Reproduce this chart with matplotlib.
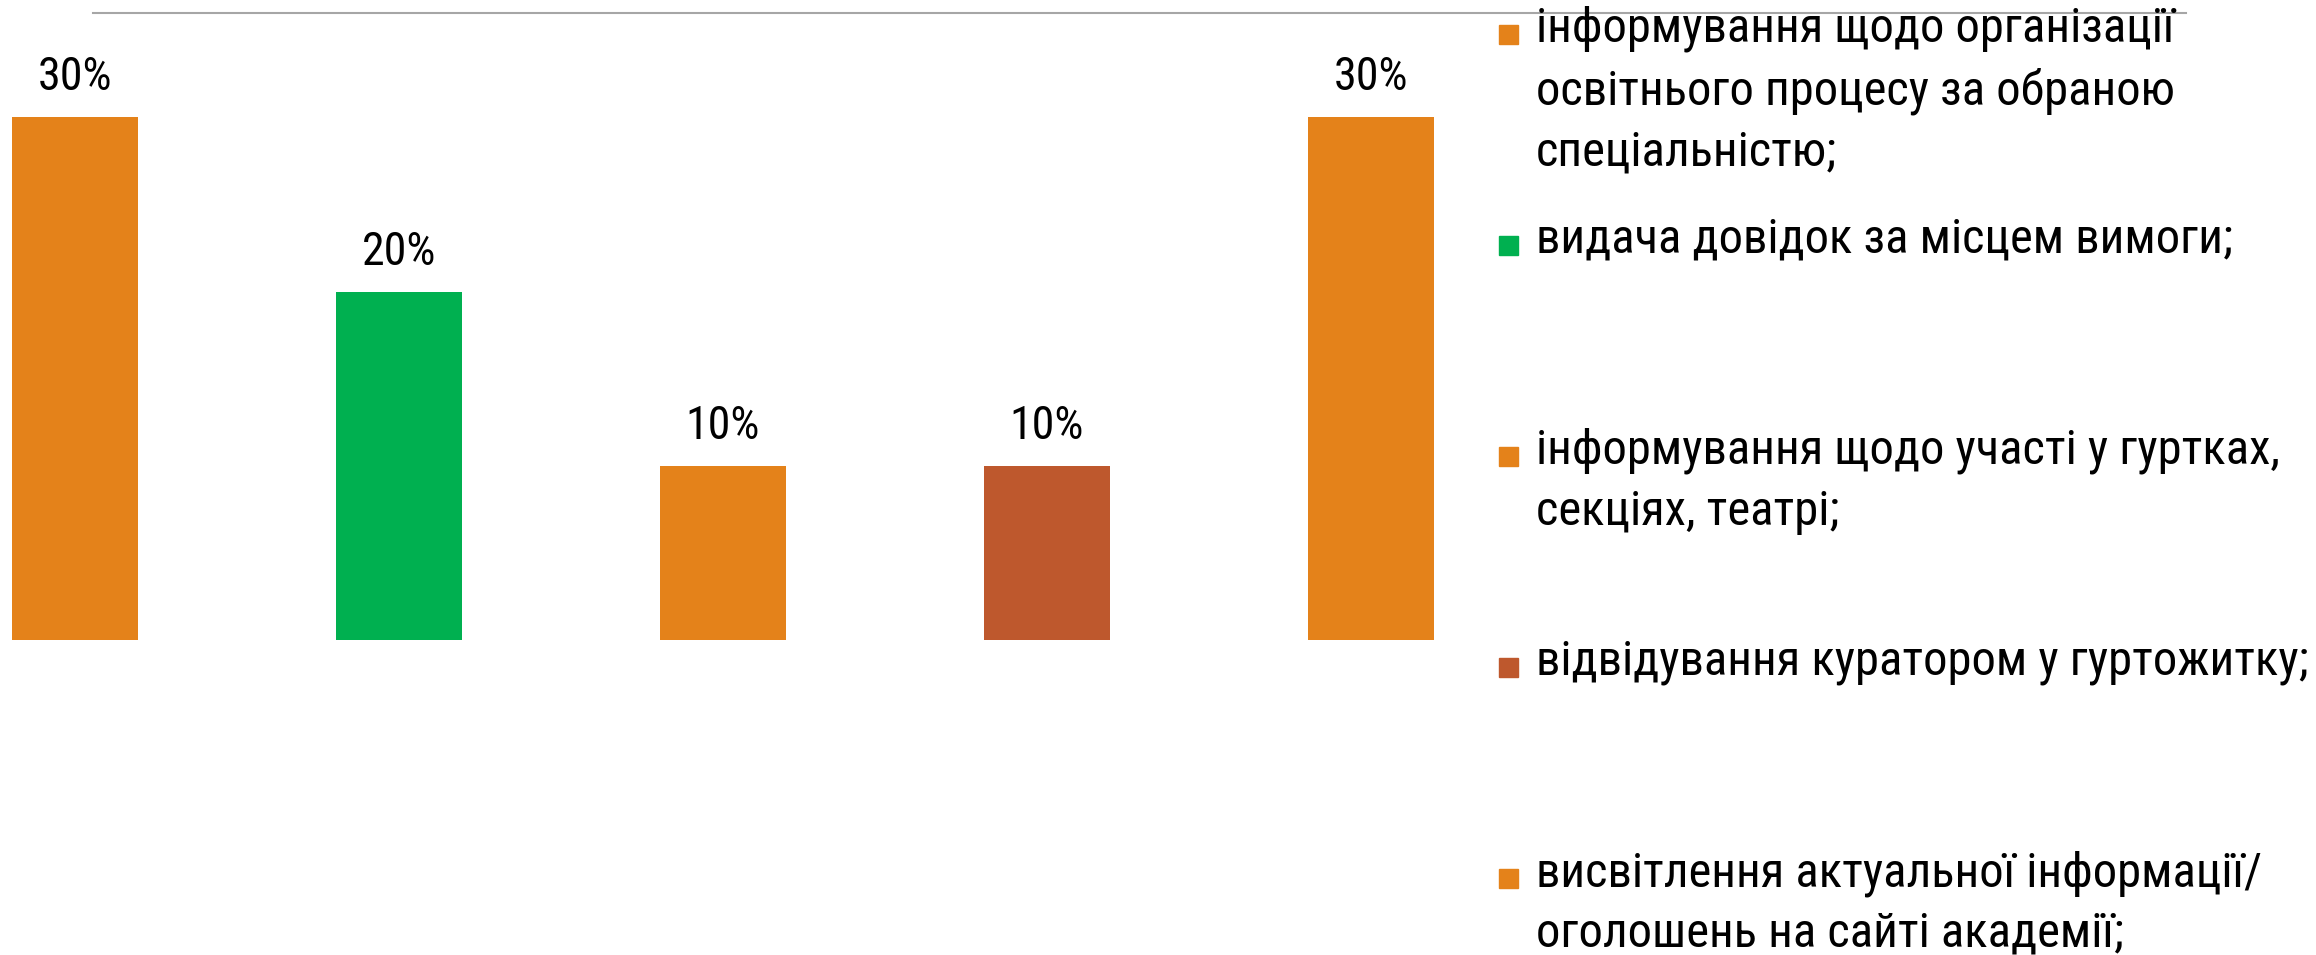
import matplotlib
matplotlib.use("Agg")
import matplotlib.pyplot as plt
from matplotlib.lines import Line2D
from matplotlib.patches import Rectangle

# values (percent)
categories = [
    "інформування щодо організації\nосвітнього процесу за обраною\nспеціальністю;",
    "видача довідок за місцем вимоги;",
    "інформування щодо участі у гуртках,\nсекціях, театрі;",
    "відвідування куратором у гуртожитку;",
    "висвітлення актуальної інформації/\nоголошень на сайті академії;",
]
values = [30, 20, 10, 10, 30]
colors = ["#E4821A", "#00B050", "#E4821A", "#BE582D", "#E4821A"]

plt.rcParams["font.family"] = ["Roboto Condensed", "Liberation Sans Narrow",
                               "DejaVu Sans Condensed", "Roboto", "DejaVu Sans"]

W, H = 2316, 955
fig = plt.figure(figsize=(W / 100, H / 100), dpi=100)

# axes spans pixel 0..1450 horizontally, 13..640 vertically
ax = fig.add_axes([0, (H - 640) / H, 1450 / W, (640 - 13) / H])
x = list(range(len(values)))
ax.bar(x, values, width=0.39, color=colors)
ax.set_xlim(-0.231, 4.244)
ax.set_ylim(0, 36.0)
ax.axis("off")

for xi, v in zip(x, values):
    ax.annotate(f"{v}%", (xi, v), xytext=(0, 13), textcoords="offset points",
                ha="center", va="bottom", fontsize=33, color="black")

# thin grey line at the top of the chart area
fig.add_artist(Line2D([93 / W, 2186 / W], [(H - 13) / H, (H - 13) / H],
                      color="#A6A6A6", lw=1.5))

# legend, entries evenly spaced like in the original
y0 = 34
step = 211
for i, (lab, c) in enumerate(zip(categories, colors)):
    yc = y0 + i * step
    fig.add_artist(Rectangle((1499 / W, (H - yc - 10) / H), 19 / W, 19 / H,
                             transform=fig.transFigure, color=c))
    fig.text(1536 / W, (H - yc + 28) / H, lab, ha="left", va="top",
             fontsize=35, linespacing=1.4, color="black",
             transform=fig.transFigure)

fig.savefig("out.png", dpi=100)
